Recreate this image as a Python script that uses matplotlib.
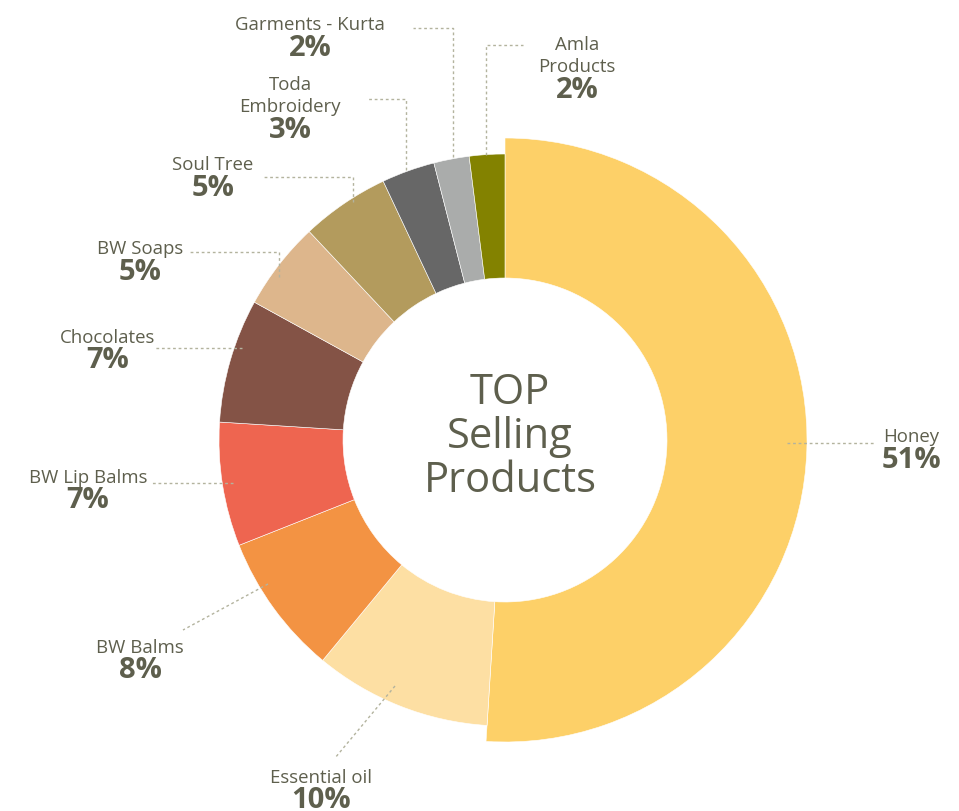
import matplotlib
matplotlib.use("Agg")
import matplotlib.pyplot as plt

# ---- data ----
categories = ["Honey", "Essential oil", "BW Balms", "BW Lip Balms", "Chocolates",
              "BW Soaps", "Soul Tree", "Toda Embroidery", "Garments - Kurta", "Amla Products"]
values = [51, 10, 8, 7, 7, 5, 5, 3, 2, 2]
colors = ["#FDD068", "#FDDFA3", "#F39343", "#EE6550", "#845346",
          "#DDB68C", "#B39B5D", "#676767", "#AAACAB", "#838200"]
display_names = ["Honey", "Essential oil", "BW Balms", "BW Lip Balms", "Chocolates",
                 "BW Soaps", "Soul Tree", "Toda\nEmbroidery", "Garments - Kurta", "Amla\nProducts"]

W, H = 959, 811
TXT = "#5E5F4D"
LEAD = "#B3B39E"
FONT = ["Open Sans", "DejaVu Sans"]

fig = plt.figure(figsize=(W / 100, H / 100), dpi=100)
ax = fig.add_axes([0, 0, 1, 1])

def Y(y):  # pixel-from-top to data y
    return H - y

cx, cy = 505, Y(440)
r_in, r_out, r_big = 162, 286, 302

wedges, _ = ax.pie(values, colors=colors, startangle=90, counterclock=False,
                   center=(cx, cy), radius=r_out,
                   wedgeprops=dict(width=r_out - r_in, linewidth=0.4, edgecolor="white"),
                   frame=True)
wedges[0].set_radius(r_big)
wedges[0].set_width(r_big - r_in)
ax.set_xlim(0, W)
ax.set_ylim(0, H)
ax.set_aspect("equal")
ax.axis("off")

# center title
ax.text(cx + 5, Y(437), "TOP\nSelling\nProducts", ha="center", va="center",
        fontsize=30, color=TXT, family=FONT, linespacing=1.05)

# label layout: (name_x, name_y_lines, pct_y, leader polyline)
layout = {
    "Honey": (911, [437], 461, [(787, 443), (875, 443)]),
    "Essential oil": (321, [778], 800, [(395, 686), (335, 758)]),
    "BW Balms": (140, [648], 670, [(268, 584), (183, 630)]),
    "BW Lip Balms": (88, [478], 500, [(233, 483), (150, 483)]),
    "Chocolates": (108, [338], 360, [(242, 348), (155, 348)]),
    "BW Soaps": (140, [249], 272, [(279, 277), (279, 252), (190, 252)]),
    "Soul Tree": (213, [165], 188, [(353, 202), (353, 177), (263, 177)]),
    "Toda Embroidery": (290, [85, 107], 130, [(406, 170), (406, 99), (366, 99)]),
    "Garments - Kurta": (310, [25], 49, [(453, 157), (453, 28), (413, 28)]),
    "Amla Products": (577, [45, 67], 90, [(486, 155), (486, 45), (523, 45)]),
}

for cat, name, val in zip(categories, display_names, values):
    nx, lines_y, py, lead = layout[cat]
    for line, ly in zip(name.split("\n"), lines_y):
        ax.text(nx, Y(ly), line, ha="center", va="center", fontsize=13.4,
                color=TXT, family=FONT)
    ax.text(nx, Y(py), f"{val}%", ha="center", va="center", fontsize=21,
            color=TXT, family=FONT, fontweight="bold")
    xs = [p[0] for p in lead]
    ys = [Y(p[1]) for p in lead]
    ax.plot(xs, ys, color=LEAD, lw=1.0, ls=(0, (2, 2)), zorder=5)

fig.savefig("out.png", dpi=100, facecolor="white")
